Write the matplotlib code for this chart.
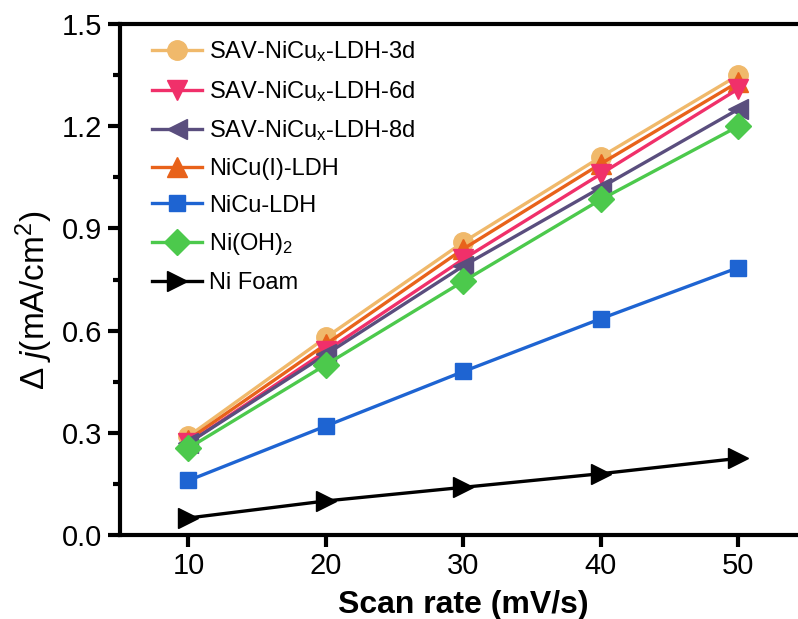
import numpy as np
import matplotlib
matplotlib.use('Agg')
import matplotlib.pyplot as plt
from matplotlib.ticker import MultipleLocator

plt.rcParams['font.family'] = ['Liberation Sans', 'DejaVu Sans']
plt.rcParams['mathtext.fontset'] = 'custom'
plt.rcParams['mathtext.rm'] = 'Liberation Sans'
plt.rcParams['mathtext.it'] = 'Liberation Sans:italic'
plt.rcParams['mathtext.bf'] = 'Liberation Sans:bold'

# scan rates (mV/s)
scan_rate = [10, 20, 30, 40, 50]

# delta j (mA/cm2)
sav_3d = [0.29, 0.58, 0.86, 1.11, 1.35]
sav_6d = [0.27, 0.54, 0.81, 1.06, 1.31]
sav_8d = [0.27, 0.53, 0.79, 1.02, 1.25]
nicu_i = [0.28, 0.56, 0.84, 1.09, 1.33]
nicu = [0.16, 0.32, 0.48, 0.635, 0.785]
ni_oh2 = [0.255, 0.50, 0.745, 0.985, 1.20]
ni_foam = [0.05, 0.10, 0.14, 0.18, 0.225]

labels = ['SAV-NiCu$_\\mathrm{x}$-LDH-3d', 'SAV-NiCu$_\\mathrm{x}$-LDH-6d',
          'SAV-NiCu$_\\mathrm{x}$-LDH-8d', 'NiCu(I)-LDH', 'NiCu-LDH',
          'Ni(OH)$_\\mathrm{2}$', 'Ni Foam']
series = [sav_3d, sav_6d, sav_8d, nicu_i, nicu, ni_oh2, ni_foam]
colors = ['#F0B96B', '#F0306A', '#5A4E7E', '#E8621A', '#1E64D2', '#4CC94C', '#000000']
markers = ['o', 'v', '<', '^', 's', 'D', '>']
sizes = [14, 15, 15, 15, 12, 13, 15]
zorders = [2, 4, 5, 3, 6, 7, 8]

fig = plt.figure(figsize=(7.98, 6.19), dpi=100)
ax = fig.add_axes([0.150, 0.1357, 0.8615, 0.8255])

for y, lab, c, m, s, z in zip(series, labels, colors, markers, sizes, zorders):
    ax.plot(scan_rate, y, color=c, marker=m, markersize=s, linewidth=2.4,
            label=lab, zorder=z, clip_on=False)

ax.set_xlim(5, 55)
ax.set_ylim(0, 1.5)
ax.xaxis.set_major_locator(MultipleLocator(10))
ax.yaxis.set_major_locator(MultipleLocator(0.3))
ax.yaxis.set_minor_locator(MultipleLocator(0.15))
ax.yaxis.set_major_formatter(matplotlib.ticker.FormatStrFormatter('%.1f'))

for sp in ['left', 'bottom', 'top']:
    ax.spines[sp].set_linewidth(3)
ax.spines['right'].set_visible(False)
ax.tick_params(which='major', direction='out', length=8.5, width=3, labelsize=21, pad=4)
ax.tick_params(which='minor', direction='out', length=5, width=3)
ax.tick_params(axis='x', which='minor', bottom=False)
ax.tick_params(top=False)

ax.set_xlabel('Scan rate (mV/s)', fontsize=23, fontweight='bold', labelpad=7)
ax.set_ylabel('$\\Delta$ $j$(mA/cm$^2$)', fontsize=24)
ax.yaxis.set_label_coords(-0.094, 0.46)

leg = ax.legend(loc='upper left', frameon=False, fontsize=17, handlelength=2.1,
                handletextpad=0.3, labelspacing=0.62, borderaxespad=0.25,
                bbox_to_anchor=(0.025, 1.0))

plt.savefig('out.png', dpi=100)
